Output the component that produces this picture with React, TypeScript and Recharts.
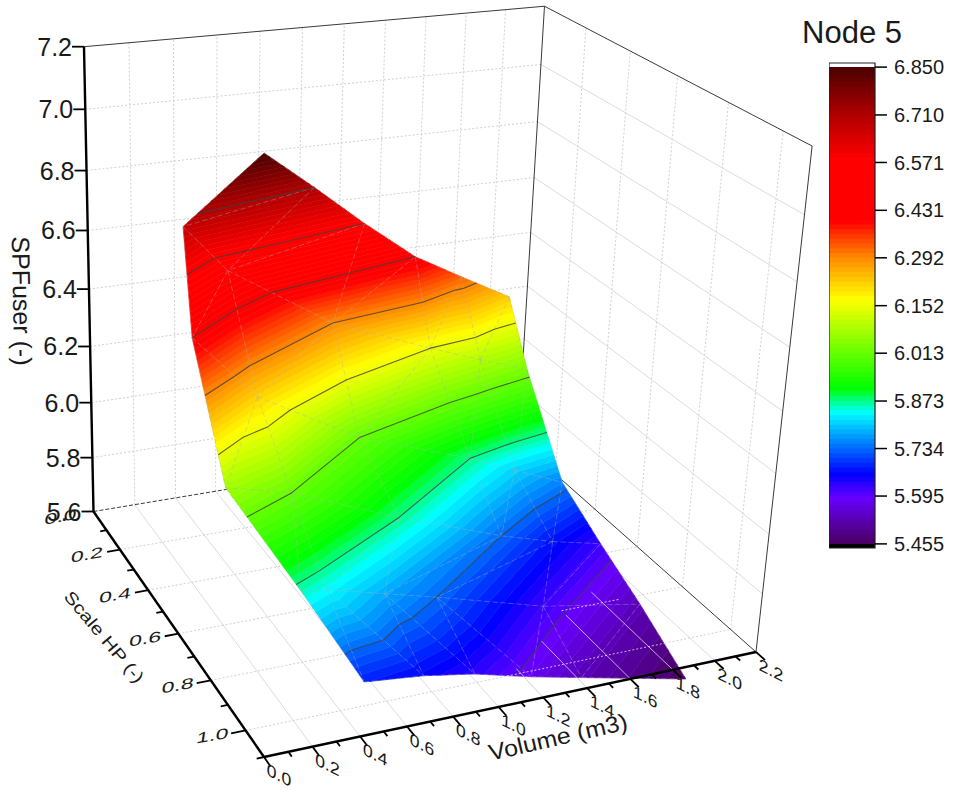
import { ScatterChart, Scatter, XAxis, YAxis, ReferenceArea } from 'recharts';

const FONT = '"Liberation Sans", Arial, sans-serif';

// surface samples, one row per Scale HP step
const volumeRows = [
  [0.74, 0.99, 1.23, 1.49, 1.75, 2.02],
  [0.31, 0.5, 1.01, 1.5, 1.75, 1.99],
  [0.21, 0.49, 0.98, 1.53, 1.75, 1.98],
  [0.2, 0.5, 0.99, 1.5, 1.77, 2.03],
  [0.37, 0.49, 0.76, 1.0, 1.52, 2.04],
  [0.5, 0.76, 0.99, 1.25, 1.5, 2.0],
];
const scaleRows = [
  [0.11, 0.1, 0.11, 0.11, 0.09, 0.08],
  [0.19, 0.21, 0.2, 0.2, 0.21, 0.22],
  [0.39, 0.41, 0.4, 0.4, 0.41, 0.43],
  [0.61, 0.6, 0.61, 0.6, 0.59, 0.58],
  [0.82, 0.81, 0.8, 0.8, 0.79, 0.76],
  [1.0, 1.0, 1.0, 1.0, 0.99, 1.0],
];
const spfRows = [
  [6.85, 6.71, 6.571, 6.431, 6.325, 6.22],
  [6.68, 6.527, 6.292, 6.152, 6.09, 6.03],
  [6.431, 6.216, 6.013, 5.873, 5.81, 5.75],
  [6.075, 6.013, 5.873, 5.734, 5.67, 5.62],
  [5.86, 5.84, 5.78, 5.734, 5.62, 5.53],
  [5.68, 5.66, 5.63, 5.58, 5.53, 5.455],
];

const colorbarTicks = [6.85, 6.71, 6.571, 6.431, 6.292, 6.152, 6.013, 5.873, 5.734, 5.595, 5.455];
const contourLevels = [6.71, 6.571, 6.431, 6.292, 6.152, 6.013, 5.873, 5.734, 5.595];
const stopValues = [5.455, 5.59, 5.66, 5.84, 5.91, 6.17, 6.29, 6.4, 6.58, 6.71, 6.85];
const stopColors = ['#4a0060', '#6600ff', '#0000ff', '#00ffff', '#00ff00', '#ffff00', '#ff8c00', '#ff0000', '#ff0000', '#b00000', '#4a0000'];

const volumeTicks = [0, 0.2, 0.4, 0.6, 0.8, 1.0, 1.2, 1.4, 1.6, 1.8, 2.0, 2.2];
const scaleTicks = [0, 0.2, 0.4, 0.6, 0.8, 1.0];
const spfTicks = [5.6, 5.8, 6.0, 6.2, 6.4, 6.6, 6.8, 7.0, 7.2];

const floorOverVolumes = [1.2, 1.4, 1.6, 1.8];
const floorOverStart = [0.98, 0.9, 0.82, 0.75];

const BAND_COUNT = 100;
const V_MAX = 2.2;
const S_MAX = 1.1;
const Z_MIN = 5.6;
const Z_MAX = 7.2;

type P3 = [number, number, number];

// camera of the 3D box, fitted on its corners
function project(v: number, s: number, z: number) {
  const u = v / V_MAX;
  const w = s / S_MAX;
  const h = (z - Z_MIN) / (Z_MAX - Z_MIN);
  const d = 0.07676 * u - 0.17433 * w - 0.0826 * h + 1;
  return {
    x: (464.26 * u + 124.48 * w - 16.44 * h + 93.5) / d,
    y: (-36.65 * u + 113.53 * w - 468.66 * h + 511.5) / d,
  };
}

function hexToRgb(hex: string) {
  return [1, 3, 5].map((i) => parseInt(hex.slice(i, i + 2), 16));
}

function colorFor(z: number) {
  let i = 0;
  while (i < stopValues.length - 2 && z > stopValues[i + 1]) i++;
  const t = Math.min(1, Math.max(0, (z - stopValues[i]) / (stopValues[i + 1] - stopValues[i])));
  const a = hexToRgb(stopColors[i]);
  const b = hexToRgb(stopColors[i + 1]);
  const c = a.map((n, k) => Math.round(n + (b[k] - n) * t));
  return `rgb(${c[0]},${c[1]},${c[2]})`;
}

function lerp3(a: P3, b: P3, t: number): P3 {
  return [a[0] + (b[0] - a[0]) * t, a[1] + (b[1] - a[1]) * t, a[2] + (b[2] - a[2]) * t];
}

// keep the part of a polygon on one side of a z level
function clipPoly(poly: P3[], level: number, above: boolean) {
  const out: P3[] = [];
  poly.forEach((p, i) => {
    const q = poly[(i + 1) % poly.length];
    const pIn = above ? p[2] >= level : p[2] <= level;
    const qIn = above ? q[2] >= level : q[2] <= level;
    if (pIn) out.push(p);
    if (pIn !== qIn) out.push(lerp3(p, q, (level - p[2]) / (q[2] - p[2])));
  });
  return out;
}

const vertex = (r: number, c: number): P3 => [volumeRows[r][c], scaleRows[r][c], spfRows[r][c]];

// each cell is split along its top-right to bottom-left diagonal
const triangles: P3[][] = [];
volumeRows.slice(0, -1).forEach((row, r) => {
  row.slice(0, -1).forEach((_, c) => {
    triangles.push([vertex(r, c), vertex(r, c + 1), vertex(r + 1, c)]);
    triangles.push([vertex(r, c + 1), vertex(r + 1, c + 1), vertex(r + 1, c)]);
  });
});

const zLow = 5.455;
const zStep = (6.85 - zLow) / BAND_COUNT;
const bands = Array.from({ length: BAND_COUNT }, (_, i) => ({
  from: zLow + i * zStep,
  to: zLow + (i + 1) * zStep,
  fill: colorFor(zLow + (i + 0.5) * zStep),
}));

const surfaceCells: any[] = [];
triangles.forEach((tri) => {
  bands.forEach((band) => {
    const piece = clipPoly(clipPoly(tri, band.from - 1e-6, true), band.to + 1e-6, false);
    if (piece.length < 3) return;
    const pts = piece.map((p) => project(p[0], p[1], p[2]));
    surfaceCells.push({ x: pts[0].x, y: pts[0].y, pts, fill: band.fill });
  });
});

type LineStyle = { stroke: string; width: number; dash?: string; opacity?: number };

function seg(a: P3, b: P3, style: LineStyle) {
  const p = project(a[0], a[1], a[2]);
  const q = project(b[0], b[1], b[2]);
  return { x: p.x, y: p.y, x2: q.x, y2: q.y, ...style };
}

const dotted: LineStyle = { stroke: '#d0d0d0', width: 1, dash: '2 2' };
const solidGrid: LineStyle = { stroke: '#dcdcdc', width: 1 };
const frame: LineStyle = { stroke: '#3a3a3a', width: 1 };
const axisLine: LineStyle = { stroke: '#000', width: 2.4 };
const tickLine: LineStyle = { stroke: '#000', width: 1.8 };

const inner = (ticks: number[]) => ticks.filter((t, i) => i > 0 && i < ticks.length - 1);

const wallLines = [
  ...inner(volumeTicks).map((v) => seg([v, 0, Z_MIN], [v, 0, Z_MAX], dotted)),
  ...inner(spfTicks).map((z) => seg([0, 0, z], [V_MAX, 0, z], dotted)),
  ...scaleTicks.slice(1).map((s) => seg([V_MAX, s, Z_MIN], [V_MAX, s, Z_MAX], dotted)),
  ...inner(spfTicks).map((z) => seg([V_MAX, 0, z], [V_MAX, S_MAX, z], solidGrid)),
  ...inner(volumeTicks).map((v) => seg([v, 0, Z_MIN], [v, S_MAX, Z_MIN], solidGrid)),
  ...scaleTicks.slice(1).map((s) => seg([0, s, Z_MIN], [V_MAX, s, Z_MIN], dotted)),
  seg([0, 0, Z_MAX], [V_MAX, 0, Z_MAX], frame),
  seg([V_MAX, 0, Z_MAX], [V_MAX, S_MAX, Z_MAX], frame),
  seg([V_MAX, 0, Z_MIN], [V_MAX, 0, Z_MAX], frame),
  seg([V_MAX, S_MAX, Z_MIN], [V_MAX, S_MAX, Z_MAX], frame),
  seg([0, 0, Z_MIN], [V_MAX, 0, Z_MIN], { ...frame, dash: '4 2' }),
  seg([V_MAX, 0, Z_MIN], [V_MAX, S_MAX, Z_MIN], frame),
];

const meshStyle: LineStyle = { stroke: '#a8a8a8', width: 0.7, dash: '5 3', opacity: 0.55 };
const meshLines: any[] = [];
volumeRows.forEach((row, r) => {
  row.forEach((_, c) => {
    if (c < row.length - 1) meshLines.push(seg(vertex(r, c), vertex(r, c + 1), meshStyle));
    if (r < volumeRows.length - 1) {
      meshLines.push(seg(vertex(r, c), vertex(r + 1, c), meshStyle));
      if (c < row.length - 1) meshLines.push(seg(vertex(r, c + 1), vertex(r + 1, c), meshStyle));
    }
  });
});

const contourStyle: LineStyle = { stroke: '#3c3c3c', width: 1.1, opacity: 0.8 };
const contourLines: any[] = [];
triangles.forEach((tri) => {
  contourLevels.forEach((raw) => {
    const level = raw + 1e-4;
    const hits: P3[] = [];
    tri.forEach((p, i) => {
      const q = tri[(i + 1) % 3];
      if (p[2] > level !== q[2] > level) hits.push(lerp3(p, q, (level - p[2]) / (q[2] - p[2])));
    });
    if (hits.length === 2) contourLines.push(seg(hits[0], hits[1], contourStyle));
  });
});

// the surface dips under the floor at the purple end, so the floor grid shows over it
const floorOverStyle: LineStyle = { stroke: '#e0cfee', width: 1, opacity: 0.8 };
const floorOverDots: LineStyle = { stroke: '#efe6f5', width: 1, dash: '2 2', opacity: 0.8 };
const floorOverLines = [
  ...floorOverVolumes.map((v, i) => seg([v, floorOverStart[i], Z_MIN], [v, S_MAX, Z_MIN], floorOverStyle)),
  seg([1.12, 1.0, Z_MIN], [1.93, 1.0, Z_MIN], floorOverDots),
  seg([1.6, 0.8, Z_MIN], [1.88, 0.8, Z_MIN], floorOverDots),
];

const axisLines = [
  seg([0, 0, Z_MIN], [0, 0, Z_MAX], axisLine),
  seg([0, 0, Z_MIN], [0, S_MAX, Z_MIN], axisLine),
  seg([0, S_MAX, Z_MIN], [V_MAX, S_MAX, Z_MIN], axisLine),
  ...spfTicks.map((z) => {
    const p = project(0, 0, z);
    return { x: p.x, y: p.y, x2: p.x - 12, y2: p.y, ...tickLine };
  }),
  ...volumeTicks.map((v) => seg([v, S_MAX, Z_MIN], [v, S_MAX + 0.035, Z_MIN], tickLine)),
  ...volumeTicks.slice(0, -1).map((v) => seg([v + 0.1, S_MAX, Z_MIN], [v + 0.1, S_MAX + 0.018, Z_MIN], tickLine)),
  ...scaleTicks.slice(1).map((s) => seg([0, s, Z_MIN], [-0.06, s, Z_MIN], tickLine)),
  ...scaleTicks.map((s) => seg([0, s + 0.1, Z_MIN], [-0.03, s + 0.1, Z_MIN], tickLine)),
];

type Label = { x: number; y: number; text: string; size: number; transform: string; anchor?: string };

const labels: Label[] = [
  ...spfTicks.map((z) => {
    const p = project(0, 0, z);
    return { x: p.x - 12, y: p.y + 9, text: z.toFixed(1), size: 25, transform: '', anchor: 'end' };
  }),
  ...scaleTicks.map((s) => {
    const p = project(0, s, Z_MIN);
    return { x: p.x - 33, y: p.y + 5, text: s.toFixed(1), size: 18, transform: 'rotate(-10) skewX(-18) scale(1.3,0.8)' };
  }),
  ...volumeTicks.map((v) => {
    const p = project(v, S_MAX, Z_MIN);
    return { x: p.x + 15, y: p.y + 18, text: v.toFixed(1), size: 18, transform: 'rotate(27) skewX(25) scale(1.1,0.85)' };
  }),
  { x: 22, y: 301, text: 'SPFuser (-)', size: 25, transform: 'rotate(89)' },
  { x: 104, y: 637, text: 'Scale HP (-)', size: 20, transform: 'rotate(50) scale(1.05,0.85)' },
  { x: 558, y: 737, text: 'Volume (m3)', size: 25, transform: 'rotate(-13) scale(1,0.92)' },
  { x: 852, y: 32, text: 'Node 5', size: 31, transform: '' },
];

function PolygonShape(props: any) {
  const { cx, cy, payload } = props;
  const points = payload.pts.map((p: any) => `${cx + p.x - payload.x},${cy + p.y - payload.y}`).join(' ');
  return <polygon points={points} fill={payload.fill} stroke={payload.fill} strokeWidth={0.6} />;
}

function SegmentShape(props: any) {
  const { cx, cy, payload } = props;
  return (
    <line
      x1={cx}
      y1={cy}
      x2={cx + payload.x2 - payload.x}
      y2={cy + payload.y2 - payload.y}
      stroke={payload.stroke}
      strokeWidth={payload.width}
      strokeDasharray={payload.dash}
      strokeOpacity={payload.opacity ?? 1}
    />
  );
}

function LabelShape(props: any) {
  const { cx, cy, payload } = props;
  return (
    <text
      transform={`translate(${cx},${cy}) ${payload.transform}`}
      textAnchor={payload.anchor ?? 'middle'}
      dominantBaseline={payload.anchor ? 'auto' : 'central'}
      fontFamily={FONT}
      fontSize={payload.size}
      fill="#1a1a1a"
    >
      {payload.text}
    </text>
  );
}

function Colorbar() {
  return (
    <ScatterChart width={124} height={790} margin={{ top: 63, bottom: 242, left: 0, right: 0 }}>
      <XAxis type="number" dataKey="x" domain={[0, 1]} hide />
      <YAxis
        type="number"
        dataKey="y"
        orientation="right"
        width={78}
        domain={[5.443, 6.862]}
        ticks={colorbarTicks}
        interval={0}
        allowDataOverflow
        axisLine={false}
        tickSize={12}
        tickMargin={7}
        tickLine={{ stroke: '#000', strokeWidth: 1.5 }}
        tickFormatter={(v: number) => v.toFixed(3)}
        tick={{ fontSize: 20, fontFamily: FONT, fill: '#1a1a1a', textAnchor: 'start' }}
      />
      {bands.map((band) => (
        <ReferenceArea key={band.from} y1={band.from} y2={band.to + 0.004} fill={band.fill} fillOpacity={1} stroke="none" />
      ))}
      <ReferenceArea y1={6.85} y2={6.862} fill="#fff" fillOpacity={1} />
      <ReferenceArea y1={5.443} y2={5.455} fill="#000" fillOpacity={1} />
      <ReferenceArea y1={5.443} y2={6.862} fill="none" stroke="#222" strokeWidth={1.2} />
      <Scatter data={[{ x: 0, y: 6 }]} fill="none" isAnimationActive={false} />
    </ScatterChart>
  );
}

export default function App() {
  return (
    <div style={{ position: 'absolute', left: 0, top: 0, width: 953, height: 790, background: '#fff', overflow: 'hidden' }}>
      <div style={{ position: 'absolute', left: 0, top: 0 }}>
        <ScatterChart width={953} height={790} margin={{ top: 0, right: 0, bottom: 0, left: 0 }}>
          <XAxis type="number" dataKey="x" domain={[0, 953]} hide allowDataOverflow />
          <YAxis type="number" dataKey="y" domain={[0, 790]} reversed hide allowDataOverflow />
          <Scatter data={wallLines} shape={SegmentShape} isAnimationActive={false} />
          <Scatter data={surfaceCells} shape={PolygonShape} isAnimationActive={false} />
          <Scatter data={meshLines} shape={SegmentShape} isAnimationActive={false} />
          <Scatter data={contourLines} shape={SegmentShape} isAnimationActive={false} />
          <Scatter data={floorOverLines} shape={SegmentShape} isAnimationActive={false} />
          <Scatter data={axisLines} shape={SegmentShape} isAnimationActive={false} />
          <Scatter data={labels} shape={LabelShape} isAnimationActive={false} />
        </ScatterChart>
      </div>
      <div style={{ position: 'absolute', left: 829, top: 0 }}>
        <Colorbar />
      </div>
    </div>
  );
}
